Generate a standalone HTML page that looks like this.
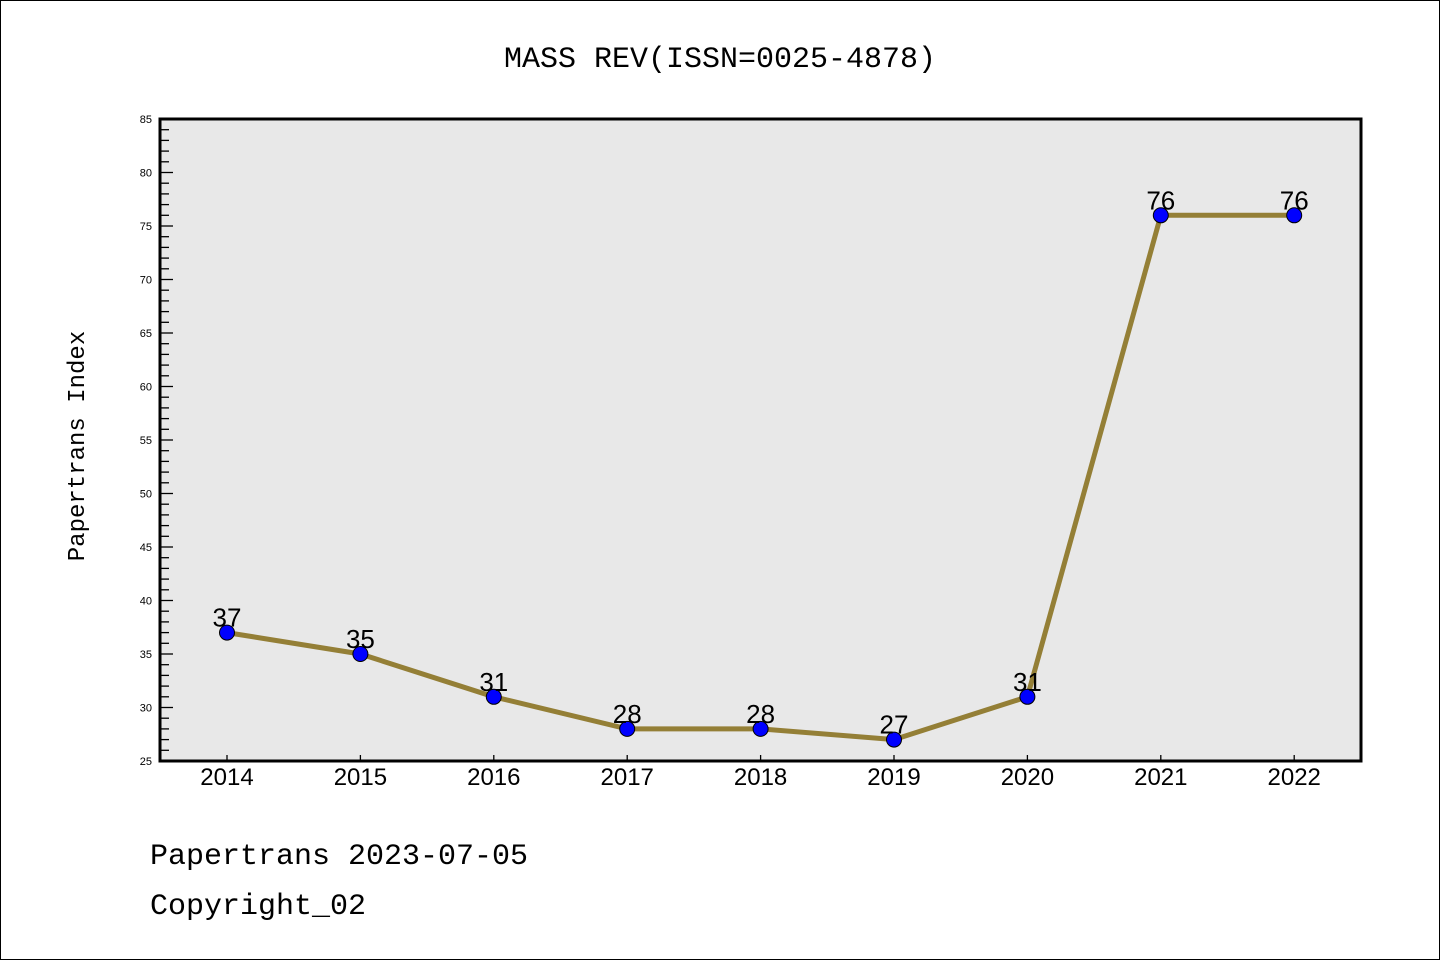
<!DOCTYPE html>
<html><head><meta charset="utf-8"><style>
body{margin:0;background:#fff;}
svg{display:block;font-family:"Liberation Sans","WenQuanYi Zen Hei",sans-serif;}
</style></head><body>
<svg id="chart" width="1440" height="960" xmlns="http://www.w3.org/2000/svg">
<rect x="0.5" y="0.5" width="1439" height="959" fill="#fff" stroke="#000"/>
<text x="720" y="67" text-anchor="middle" font-size="30" font-family="'Liberation Mono','WenQuanYi Zen Hei',monospace">MASS REV(ISSN=0025-4878)</text>
<rect x="160" y="119" width="1201" height="642" fill="#e8e8e8"/>
<g id="yaxis"></g>
<g id="xaxis"></g>
<g id="series"></g>
<rect x="160" y="119" width="1201" height="642" fill="none" stroke="#000" stroke-width="3"/>
<text transform="translate(84,446) rotate(-90)" text-anchor="middle" font-size="24" font-family="'Liberation Mono',monospace">Papertrans Index</text>
<text x="150" y="864" font-size="30" font-family="'Liberation Mono',monospace">Papertrans 2023-07-05</text>
<text x="150" y="914" font-size="30" font-family="'Liberation Mono',monospace">Copyright_02</text>
</svg>
<script>
const years=["2014","2015","2016","2017","2018","2019","2020","2021","2022"];
const values=[37,35,31,28,28,27,31,76,76];
const yTicks=[25,30,35,40,45,50,55,60,65,70,75,80,85];
const NS="http://www.w3.org/2000/svg";
const y=v=>761-(v-25)*(642/60);
const x=i=>227+i*133.4;
function mk(t,a,p){const e=document.createElementNS(NS,t);for(const k in a)e.setAttribute(k,a[k]);p.appendChild(e);return e;}
const ya=document.getElementById('yaxis'),xa=document.getElementById('xaxis'),se=document.getElementById('series');
for(let v=25;v<=85;v++){const l=mk('line',{x1:160,x2:v%5===0?173:169,y1:y(v),y2:y(v),stroke:'#000','stroke-width':1.3},ya);

}
yTicks.forEach(v=>{const t=mk('text',{x:152,y:y(v)+4,'text-anchor':'end','font-size':11},ya);t.textContent=v;

});
years.forEach((yr,i)=>{const l=mk('line',{x1:x(i),x2:x(i),y1:761,y2:755,stroke:'#000','stroke-width':1.3},xa);


const t=mk('text',{x:x(i),y:785,'text-anchor':'middle','font-size':24},xa);t.textContent=yr;

});
const pl=mk('polyline',{points:values.map((v,i)=>x(i)+','+y(v)).join(' '),fill:'none',stroke:'#947f36','stroke-width':5},se);


values.forEach((v,i)=>{const c=mk('circle',{cx:x(i),cy:y(v),r:7.5,fill:'#0000ff',stroke:'#000','stroke-width':1},se);


const t=mk('text',{x:x(i),y:y(v)-6,'text-anchor':'middle','font-size':26},se);t.textContent=v;

});
</script>
</body></html>
